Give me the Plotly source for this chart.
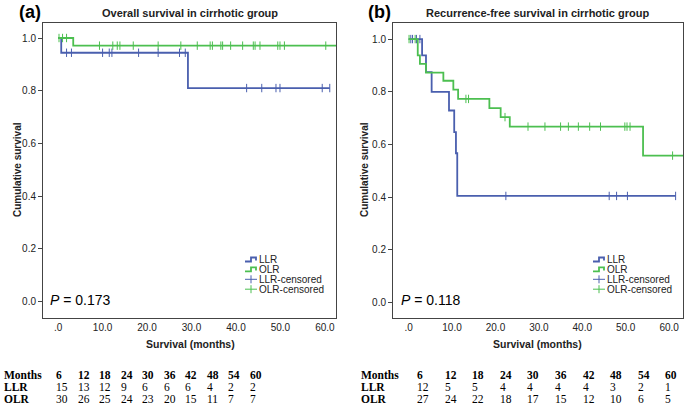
import plotly.graph_objects as go
from plotly.subplots import make_subplots

W, H = 686, 416
BLUE = '#4a5fae'
GREEN = '#4cbf50'
AX = '#444444'
TXT = '#222222'

# (a) overall survival: step times / survival values, censor times
a_llr_t = [0, 0.7, 29.2, 61.1]
a_llr_s = [1.0, 0.944, 0.81, 0.81]
a_llr_cens = [1.9, 3.0, 10.0, 11.5, 12.1, 18.1, 22.5, 27.3, 28.6, 42.4, 45.8, 49.0, 49.9, 59.4, 61.1]
a_olr_t = [0, 3.4, 64.0]
a_olr_s = [1.0, 0.971, 0.971]
a_olr_cens = [0.2, 1.0, 1.9, 9.3, 12.3, 13.3, 13.9, 16.9, 22.5, 27.6, 31.3, 34.2, 34.7, 36.6,
              37.0, 38.8, 41.5, 43.9, 44.3, 45.4, 49.4, 49.9, 50.9, 60.2]

# (b) recurrence-free survival
b_llr_t = [0, 3.1, 4.0, 5.3, 9.3, 10.5, 10.9, 11.2, 61.5]
b_llr_s = [1.0, 0.938, 0.875, 0.80, 0.729, 0.647, 0.567, 0.405, 0.405]
b_llr_cens = [0.5, 0.9, 1.8, 2.6, 22.4, 46.2, 47.9, 50.4, 61.5]
b_olr_t = [0, 2.1, 2.6, 4.0, 8.0, 10.3, 11.4, 18.6, 21.2, 23.3, 54.0, 64.0]
b_olr_s = [1.0, 0.938, 0.906, 0.873, 0.842, 0.808, 0.773, 0.738, 0.704, 0.668, 0.558, 0.558]
b_olr_cens = [0.1, 1.5, 13.2, 13.8, 22.2, 27.5, 31.4, 35.0, 36.8, 39.1, 41.7, 44.2, 49.8,
              50.3, 51.0, 60.8]

# numbers at risk
risk_months = [6, 12, 18, 24, 30, 36, 42, 48, 54, 60]
a_llr_risk = [15, 13, 12, 9, 6, 6, 6, 4, 2, 2]
a_olr_risk = [30, 26, 25, 24, 23, 20, 15, 11, 7, 7]
b_llr_risk = [12, 5, 5, 4, 4, 4, 4, 3, 2, 1]
b_olr_risk = [27, 24, 22, 18, 17, 15, 12, 10, 6, 5]

x_ticks = [0, 10, 20, 30, 40, 50, 60]
x_tick_text = ['.0', '10.0', '20.0', '30.0', '40.0', '50.0', '60.0']
y_ticks = [0, 0.2, 0.4, 0.6, 0.8, 1.0]


def px(x):
    return x / W


def py(y):
    return 1 - y / H


def surv_at(ts, ss, t):
    v = ss[0]
    for tt, s in zip(ts, ss):
        if tt <= t:
            v = s
    return v


fig = make_subplots(rows=1, cols=2)

for col, curves in [(1, [(a_llr_t, a_llr_s, a_llr_cens, BLUE), (a_olr_t, a_olr_s, a_olr_cens, GREEN)]),
                    (2, [(b_llr_t, b_llr_s, b_llr_cens, BLUE), (b_olr_t, b_olr_s, b_olr_cens, GREEN)])]:
    for ts, ss, cens, c in curves:
        fig.add_trace(go.Scatter(x=ts, y=ss, mode='lines', line=dict(color=c, width=1.8, shape='hv'),
                                 showlegend=False, hoverinfo='skip'), row=1, col=col)
        fig.add_trace(go.Scatter(x=cens, y=[surv_at(ts, ss, t) for t in cens], mode='markers',
                                 marker=dict(symbol='line-ns', size=6, line=dict(color=c, width=1)),
                                 showlegend=False), row=1, col=col)

ytop, ybot = 23, 318
fig.update_layout(
    width=W, height=H, margin=dict(l=0, r=0, t=0, b=0),
    paper_bgcolor='white', plot_bgcolor='white',
    font=dict(family='Liberation Sans, Arial, sans-serif', color=TXT, size=10),
    xaxis=dict(domain=[px(43), px(336)], range=[-3.4, 62.5]),
    xaxis2=dict(domain=[px(393), px(683)], range=[-3.6, 63.2]),
    yaxis=dict(domain=[py(ybot), py(ytop)], range=[-0.063, 1.057]),
    yaxis2=dict(domain=[py(ybot), py(ytop)], range=[-0.058, 1.061]),
)
fig.update_xaxes(tickvals=x_ticks, ticktext=x_tick_text, showgrid=False, zeroline=False,
                 showline=True, linecolor=AX, linewidth=1, mirror=True, ticks='',
                 tickfont=dict(size=10, color=TXT))
fig.update_yaxes(tickvals=y_ticks, tickformat='.1f', showgrid=False, zeroline=False,
                 showline=True, linecolor=AX, linewidth=1, mirror=True, ticks='outside',
                 ticklen=4, tickcolor=AX, tickfont=dict(size=10, color=TXT))

ann = []
shapes = []
panels = [
    dict(tag='(a)', tx=17, title='Overall survival in cirrhotic group', cx=190, ylab=17,
         p='0.173', leg_x=245, lab_x=2, col0=54, step=21.5, llr=a_llr_risk, olr=a_olr_risk, xref='x'),
    dict(tag='(b)', tx=366, title='Recurrence-free survival in cirrhotic group', cx=537, ylab=364,
         p='0.118', leg_x=593, lab_x=359, col0=415, step=27.6, llr=b_llr_risk, olr=b_olr_risk, xref='x2'),
]
for P in panels:
    ann.append(dict(text='<b>' + P['tag'] + '</b>', x=px(P['tx']), y=py(12), xanchor='left',
                    font=dict(size=18, color='black')))
    ann.append(dict(text='<b>' + P['title'] + '</b>', x=px(P['cx']), y=py(13), xanchor='center',
                    font=dict(size=11)))
    ann.append(dict(text='<b>Cumulative survival</b>', x=px(P['ylab']), y=py(170), xanchor='center',
                    textangle=-90, font=dict(size=10)))
    ann.append(dict(text='<b>Survival (months)</b>', x=px(P['cx']), y=py(344), xanchor='center',
                    font=dict(size=10.5)))
    ann.append(dict(text='<i>P</i> = ' + P['p'], x=-2.2, xref=P['xref'], y=py(300), xanchor='left',
                    font=dict(size=14, color='black')))
    # legend
    lx = P['leg_x']
    labels = ['LLR', 'OLR', 'LLR-censored', 'OLR-censored']
    colors = [BLUE, GREEN, BLUE, GREEN]
    for i, (lab, c) in enumerate(zip(labels, colors)):
        yy = 259.5 + i * 9.9
        ann.append(dict(text=lab, x=px(lx + 12), y=py(yy), xanchor='left', font=dict(size=10)))
        if i < 2:
            shapes.append(dict(type='path', xref='paper', yref='paper',
                               path=f'M {px(lx)} {py(yy + 2)} L {px(lx + 6)} {py(yy + 2)} '
                                    f'L {px(lx + 6)} {py(yy - 2)} L {px(lx + 11)} {py(yy - 2)} '
                                    f'L {px(lx + 11)} {py(yy + 1)}',
                               line=dict(color=c, width=1.8)))
        else:
            shapes.append(dict(type='line', xref='paper', yref='paper', x0=px(lx), x1=px(lx + 12),
                               y0=py(yy), y1=py(yy), line=dict(color=c, width=1)))
            shapes.append(dict(type='line', xref='paper', yref='paper', x0=px(lx + 6), x1=px(lx + 6),
                               y0=py(yy - 4), y1=py(yy + 4), line=dict(color=c, width=1)))
    # numbers at risk
    tf = 'Liberation Serif, Times New Roman, serif'
    rows = [('Months', [str(m) for m in risk_months], True), ('LLR', [str(v) for v in P['llr']], False),
            ('OLR', [str(v) for v in P['olr']], False)]
    for r, (lab, vals, bold) in enumerate(rows):
        yy = 375 + r * 12.2
        ann.append(dict(text='<b>' + lab + '</b>', x=px(P['lab_x']), y=py(yy), xanchor='left',
                        font=dict(size=11.5, family=tf, color='black')))
        for j, v in enumerate(vals):
            ann.append(dict(text=('<b>' + v + '</b>') if bold else v, x=px(P['col0'] + j * P['step']),
                            y=py(yy), xanchor='left', font=dict(size=11.5, family=tf, color='black')))

for a in ann:
    a.setdefault('xref', 'paper')
    a['yref'] = 'paper'
    a['yanchor'] = 'middle'
    a['showarrow'] = False
fig.update_layout(annotations=ann, shapes=shapes)

fig.write_html('out.html', config={'displayModeBar': False},
               post_script="document.body.style.margin='0';")
